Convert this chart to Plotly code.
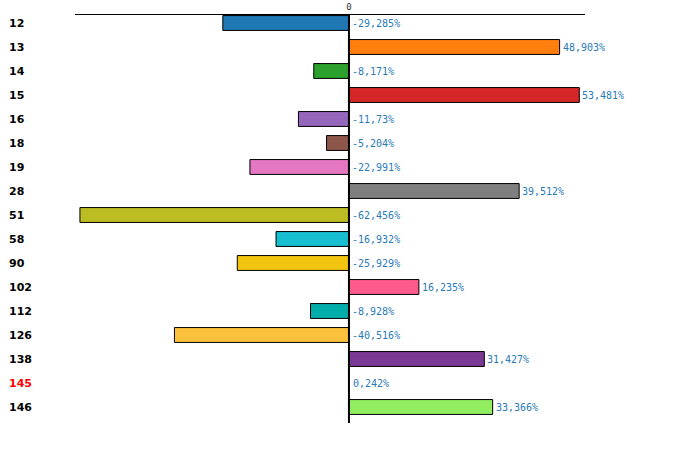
import plotly.graph_objects as go

categories = ["12", "13", "14", "15", "16", "18", "19", "28", "51", "58",
              "90", "102", "112", "126", "138", "145", "146"]
values = [-29.285, 48.903, -8.171, 53.481, -11.73, -5.204, -22.991, 39.512,
          -62.456, -16.932, -25.929, 16.235, -8.928, -40.516, 31.427, 0.242, 33.366]
value_labels = ["-29,285%", "48,903%", "-8,171%", "53,481%", "-11,73%", "-5,204%",
                "-22,991%", "39,512%", "-62,456%", "-16,932%", "-25,929%", "16,235%",
                "-8,928%", "-40,516%", "31,427%", "0,242%", "33,366%"]
colors = ["#1f77b4", "#ff7f0e", "#2ca02c", "#d62728", "#9467bd", "#8c564b",
          "#e377c2", "#7f7f7f", "#bcbd22", "#17becf", "#f1c40f", "#ff5a8c",
          "#00ada9", "#fcc13c", "#7a3a94", "#aec7e8", "#90ee60"]
highlight = "145"

idx = list(range(len(categories)))
outline_w = [0 if c == highlight else 1 for c in categories]

fig = go.Figure()
fig.add_trace(go.Bar(
    x=values, y=idx, orientation="h", width=0.62,
    marker=dict(color=colors, line=dict(color="black", width=outline_w)),
    hoverinfo="skip", showlegend=False,
))

annotations = []
for i, (c, v, lab) in enumerate(zip(categories, values, value_labels)):
    annotations.append(dict(
        x=max(v, 0), y=i, xref="x", yref="y", text=lab, showarrow=False,
        xanchor="left", yanchor="middle", xshift=1, yshift=-1,
        font=dict(family="DejaVu Sans Mono", size=10, color="#2a7ab8"),
    ))
    annotations.append(dict(
        x=-66 / 510, y=i, xref="paper", yref="y", text="<b>%s</b>" % c, showarrow=False,
        xanchor="left", yanchor="middle", yshift=-1, xshift=-2,
        font=dict(family="DejaVu Sans", size=11, color="red" if c == highlight else "black"),
    ))

fig.add_shape(type="line", xref="x", yref="paper", x0=0, x1=0, y0=0, y1=1,
              line=dict(color="black", width=2), layer="above")

fig.update_layout(
    width=700, height=453,
    margin=dict(l=75, r=115, t=15, b=30),
    plot_bgcolor="white", paper_bgcolor="white",
    annotations=annotations,
    xaxis=dict(
        side="top", range=[-63.6, 54.8], showgrid=False, automargin=False,
        showline=True, linecolor="black", linewidth=1,
        zeroline=False,
        tickvals=[0], ticktext=["0"], ticks="", ticklen=0,
        tickfont=dict(family="DejaVu Sans Mono", size=9, color="#333"),
    ),
    yaxis=dict(
        range=[16.667, -0.333], showgrid=False, showticklabels=False, automargin=False,
        zeroline=False, showline=False, ticks="",
    ),
)

fig.write_html("out.html", config={"displayModeBar": False, "staticPlot": True},
               post_script="document.body.style.margin='0';")
